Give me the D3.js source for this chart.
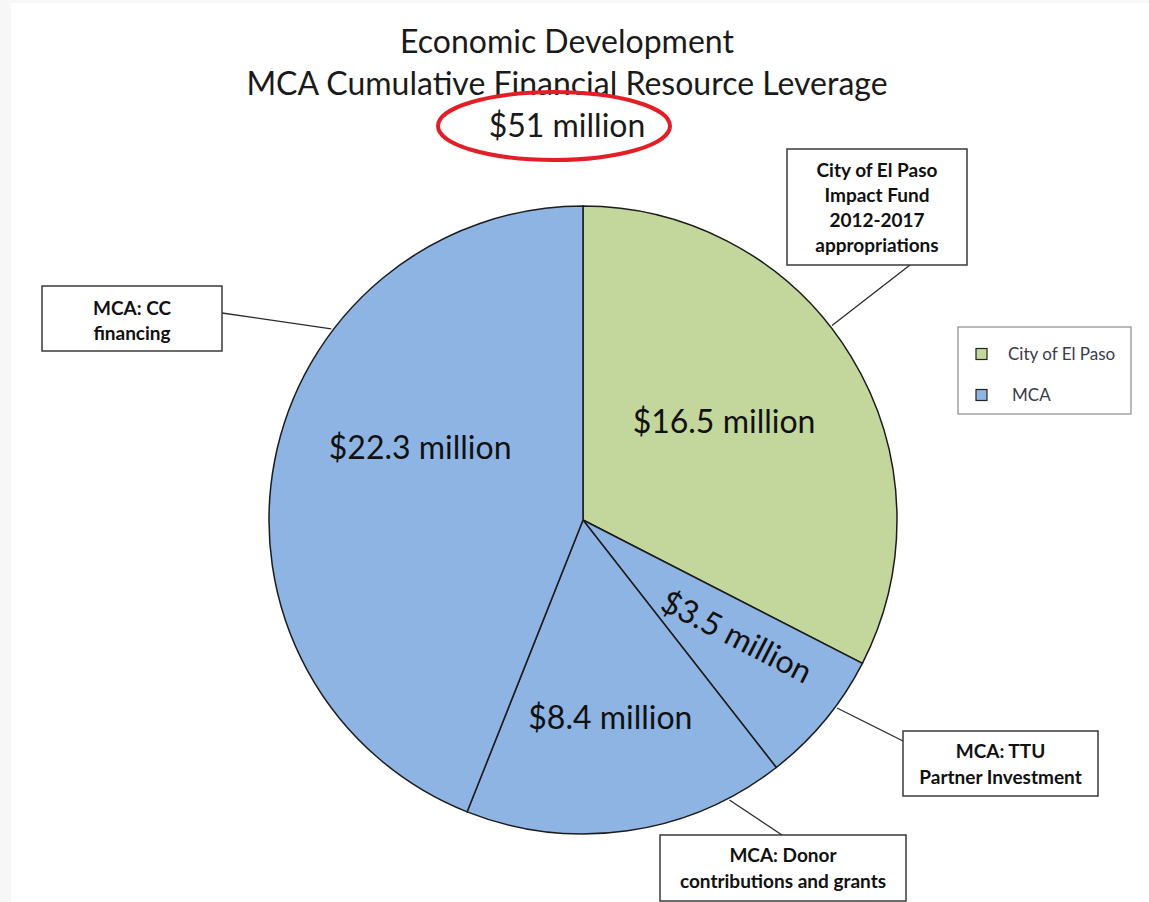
<!DOCTYPE html>
<html>
<head>
<meta charset="UTF-8">
<title>Economic Development - MCA Cumulative Financial Resource Leverage</title>
<script src="https://d3js.org/d3.v7.min.js"></script>
<style>
    body { margin: 0; background: #ffffff; }
    svg { display: block; }
    .title { font-family: Lato, "Open Sans", sans-serif; font-size: 32px; fill: #1a1a1a; }
    .slice-label { font-family: Lato, "Open Sans", sans-serif; font-size: 32px; fill: #111; }
    .callout text { font-family: Lato, "Open Sans", sans-serif; font-size: 19px; font-weight: bold; fill: #111; }
    .legend text { font-family: Lato, "Open Sans", sans-serif; font-size: 17px; fill: #3a3a4a; }
</style>
</head>
<body>
<div id="chart"></div>
<script>
    // data
    var sliceNames = ["City of El Paso Impact Fund", "MCA: TTU Partner Investment", "MCA: Donor contributions and grants", "MCA: CC financing"];
    var sliceValues = [16.5, 3.5, 8.4, 22.3];
    var sliceGroups = ["City of El Paso", "MCA", "MCA", "MCA"];
    var sliceLabels = ["$16.5 million", "$3.5 million", "$8.4 million", "$22.3 million"];
    var calloutLines = [
        ["City of El Paso", "Impact Fund", "2012-2017", "appropriations"],
        ["MCA: TTU", "Partner Investment"],
        ["MCA: Donor", "contributions and grants"],
        ["MCA: CC", "financing"]
    ];
    var legendItems = ["City of El Paso", "MCA"];
    var titleLines = ["Economic Development", "MCA Cumulative Financial Resource Leverage", "$51 million"];

    var width = 1149, height = 902;
    var cx = 583, cy = 520, radius = 314;

    var color = d3.scaleOrdinal()
        .domain(legendItems)
        .range(["#c3d69b", "#8eb4e3"]);

    var svg = d3.select("#chart").append("svg")
        .attr("width", width).attr("height", height);

    // faint scan border like the source image
    svg.append("rect").attr("x", 0).attr("y", 0).attr("width", width).attr("height", height).attr("fill", "#f7f7f7");
    svg.append("rect").attr("x", 11).attr("y", 3).attr("width", width - 11).attr("height", height - 3).attr("fill", "#ffffff");

    // titles
    svg.selectAll(".title")
        .data(titleLines)
        .enter().append("text")
        .attr("class", "title")
        .attr("x", 567)
        .attr("y", function (d, i) { return 53 + i * 42; })
        .attr("text-anchor", "middle")
        .text(function (d) { return d; });

    svg.append("ellipse")
        .attr("cx", 554).attr("cy", 126)
        .attr("rx", 116).attr("ry", 34)
        .attr("fill", "none")
        .attr("stroke", "#e41e26")
        .attr("stroke-width", 4);

    var pie = d3.pie().sort(null).value(function (d) { return d; });
    var arcs = pie(sliceValues);
    var arc = d3.arc().innerRadius(0).outerRadius(radius);

    var g = svg.append("g").attr("transform", "translate(" + cx + "," + cy + ")");

    g.selectAll(".slice")
        .data(arcs)
        .enter().append("path")
        .attr("class", "slice")
        .attr("d", arc)
        .attr("fill", function (d, i) { return color(sliceGroups[i]); })
        .attr("stroke", "#1c1c1c")
        .attr("stroke-width", 1.5);

    // label placement: radius and angle nudge (deg) per slice, as dragged in the original
    var labelPos = [{ r: 172, da: -3.5 }, { r: 193, da: -2.4, rotateWithEdge: true }, { r: 200, da: 0.3 }, { r: 178, da: 13 }];
    function polar(r, a) { return [r * Math.sin(a), -r * Math.cos(a)]; }

    g.selectAll(".slice-label")
        .data(arcs)
        .enter().append("text")
        .attr("class", "slice-label")
        .attr("text-anchor", "middle")
        .attr("dy", "0.35em")
        .attr("transform", function (d, i) {
            var p = labelPos[i];
            var mid = (d.startAngle + d.endAngle) / 2 + p.da * Math.PI / 180;
            var xy = polar(p.r, mid);
            var t = "translate(" + xy[0] + "," + xy[1] + ")";
            if (p.rotateWithEdge) {
                // parallel to the slice's start edge
                var deg = d.startAngle * 180 / Math.PI - 90;
                t += " rotate(" + deg + ")";
            }
            return t;
        })
        .text(function (d, i) { return sliceLabels[i]; });

    // callouts: box in page coords, leader anchored on the rim at an angle (deg)
    var callouts = [
        { x: 787, y: 149, w: 180, h: 116, lx: 910, ly: 265, angle: 52, lineY: 170, lineH: 25 },
        { x: 903, y: 731, w: 195, h: 65, lx: 903, ly: 741, angle: 126.5, lineY: 751, lineH: 26 },
        { x: 660, y: 835, w: 246, h: 66, lx: 782, ly: 835, angle: 152.4, lineY: 855, lineH: 26 },
        { x: 42, y: 286, w: 180, h: 65, lx: 222, ly: 313, angle: 307.2, lineY: 308, lineH: 25 }
    ];

    var co = svg.selectAll(".callout")
        .data(callouts)
        .enter().append("g")
        .attr("class", "callout");

    co.append("line")
        .attr("x1", function (d) { return d.lx; })
        .attr("y1", function (d) { return d.ly; })
        .attr("x2", function (d) { return cx + polar(radius + 2, d.angle * Math.PI / 180)[0]; })
        .attr("y2", function (d) { return cy + polar(radius + 2, d.angle * Math.PI / 180)[1]; })
        .attr("stroke", "#2a2a2a")
        .attr("stroke-width", 1.3);

    co.append("rect")
        .attr("x", function (d) { return d.x; })
        .attr("y", function (d) { return d.y; })
        .attr("width", function (d) { return d.w; })
        .attr("height", function (d) { return d.h; })
        .attr("fill", "#fff")
        .attr("stroke", "#3a3a3a")
        .attr("stroke-width", 1.5);

    co.each(function (d, i) {
        d3.select(this).selectAll("text")
            .data(calloutLines[i])
            .enter().append("text")
            .attr("x", d.x + d.w / 2)
            .attr("y", function (t, j) { return d.lineY + j * d.lineH; })
            .attr("dy", "0.35em")
            .attr("text-anchor", "middle")
            .text(function (t) { return t; });
    });

    // legend
    var legend = svg.append("g").attr("class", "legend");
    legend.append("rect")
        .attr("x", 958).attr("y", 327).attr("width", 173).attr("height", 87)
        .attr("fill", "#fff").attr("stroke", "#8a8a8a").attr("stroke-width", 1.2);

    var li = legend.selectAll(".item")
        .data(legendItems)
        .enter().append("g")
        .attr("class", "item")
        .attr("transform", function (d, i) { return "translate(976," + (354 + i * 41) + ")"; });

    li.append("rect")
        .attr("x", 0).attr("y", -5.5).attr("width", 11).attr("height", 11)
        .attr("fill", function (d) { return color(d); })
        .attr("stroke", "#222").attr("stroke-width", 1.2);

    li.append("text")
        .attr("x", function (d, i) { return i === 0 ? 32 : 36; })
        .attr("dy", "0.35em")
        .text(function (d) { return d; });
</script>
</body>
</html>
